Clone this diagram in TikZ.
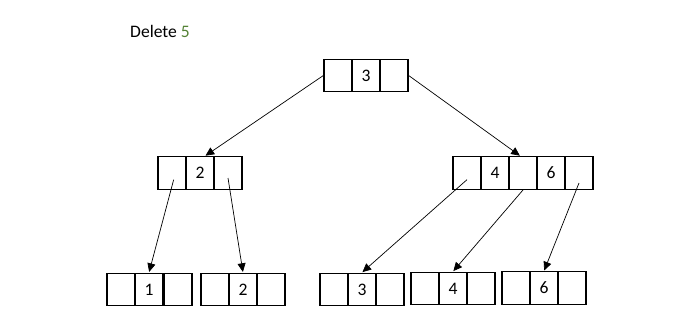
\documentclass[tikz,border=0pt]{standalone}
\usepackage{fontspec}
\setmainfont{Carlito}
\usepackage{tikz}
\usetikzlibrary{arrows.meta}
\usepackage{xcolor}
\definecolor{delgreen}{RGB}{84,130,53}

\begin{document}
\begin{tikzpicture}[x=0.03cm,y=-0.03cm,>={Triangle[length=2.6mm,width=2.4mm]},
  cell/.style={draw,line width=1.1pt,minimum width=0.84cm,minimum height=0.98cm,inner sep=0pt,font=\fontsize{15}{15}\selectfont},
  link/.style={->,line width=0.6pt,shorten >=0.5pt}]
\useasboundingbox (0,0) rectangle (700,330);
\node[anchor=base west,inner sep=0pt,font=\fontsize{15}{15}\selectfont] (title) at (130,37) {Delete \textcolor{delgreen}{5}};
% root
\foreach \i/\x/\t in {1/338/,2/366/3,3/394/}
  \node[cell] (r\i) at (\x,75.5) {\t};
% second level
\foreach \i/\x/\t in {1/172/,2/200/2,3/228/}
  \node[cell] (a\i) at (\x,173) {\t};
\foreach \i/\x/\t in {1/467/,2/495/4,3/523/,4/551/6,5/579/}
  \node[cell] (b\i) at (\x,173) {\t};
% leaves
\foreach \i/\x/\t in {1/121/,2/149/1,3/178/}
  \node[cell] (p\i) at (\x,289.5) {\t};
\foreach \i/\x/\t in {1/215/,2/243/2,3/271/}
  \node[cell] (q\i) at (\x,289.5) {\t};
\foreach \i/\x/\t in {1/334/,2/362/3,3/390/}
  \node[cell] (s\i) at (\x,289.5) {\t};
\foreach \i/\x/\t in {1/425/,2/453/4,3/481/}
  \node[cell] (t\i) at (\x,288.5) {\t};
\foreach \i/\x/\t in {1/516/,2/544/6,3/572/}
  \node[cell] (u\i) at (\x,288) {\t};
% pointers
\draw[link] (r1.west) -- ([xshift=0.15cm]a2.north);
\draw[link] (r3.east) -- ([xshift=-0.08cm]b3.north);
\draw[link] ([shift={(0.05cm,-0.2cm)}]a1.center) -- (p2.north);
\draw[link] ([yshift=-0.15cm]a3.center) -- (q2.north);
\draw[link] ([yshift=-0.2cm]b1.center) -- (s2.north);
\draw[link] (b3.south) -- (t2.north);
\draw[link] ([yshift=-0.3cm]b5.center) -- (u2.north);
\end{tikzpicture}
\end{document}
